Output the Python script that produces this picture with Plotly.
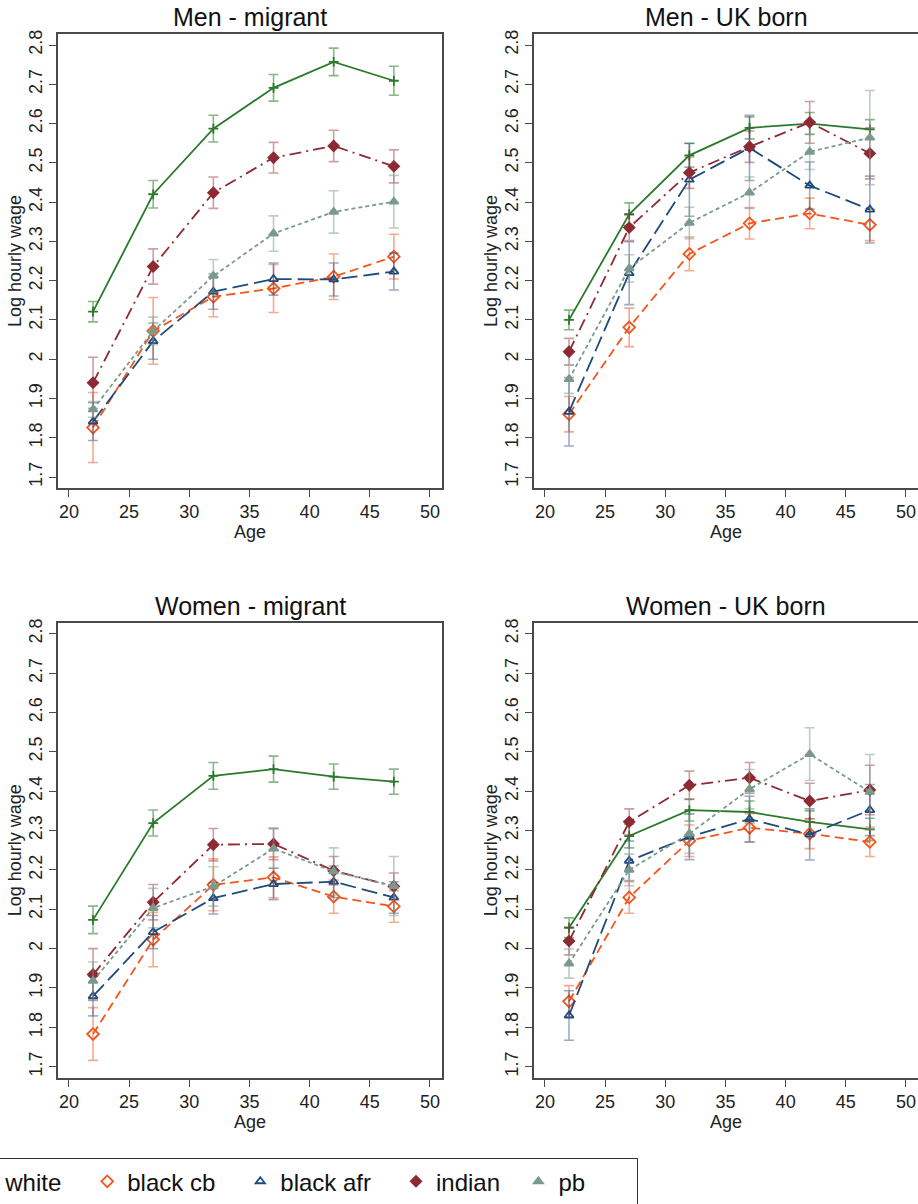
import plotly.graph_objects as go

ages = [22, 27, 32, 37, 42, 47]
groups = ["white", "black cb", "black afr", "indian", "pb"]
panel_titles = ["Men - migrant", "Men - UK born", "Women - migrant", "Women - UK born"]
x_ticks = [20, 25, 30, 35, 40, 45, 50]
y_ticks = [1.7, 1.8, 1.9, 2.0, 2.1, 2.2, 2.3, 2.4, 2.5, 2.6, 2.7, 2.8]
y_tick_labels = ["1.7", "1.8", "1.9", "2", "2.1", "2.2", "2.3", "2.4", "2.5", "2.6", "2.7", "2.8"]

# Men - migrant
mm_white = [2.121, 2.420, 2.587, 2.691, 2.757, 2.709]
mm_white_err = [0.026, 0.035, 0.034, 0.034, 0.035, 0.037]
mm_blackcb = [1.826, 2.072, 2.159, 2.180, 2.210, 2.261]
mm_blackcb_err = [0.089, 0.085, 0.051, 0.061, 0.058, 0.057]
mm_blackafr = [1.841, 2.046, 2.172, 2.204, 2.203, 2.223]
mm_blackafr_err = [0.048, 0.046, 0.045, 0.041, 0.042, 0.047]
mm_indian = [1.940, 2.236, 2.424, 2.513, 2.543, 2.491]
mm_indian_err = [0.065, 0.045, 0.040, 0.039, 0.040, 0.042]
mm_pb = [1.872, 2.072, 2.212, 2.320, 2.375, 2.401]
mm_pb_err = [0.020, 0.035, 0.042, 0.045, 0.054, 0.067]

# Men - UK born
mu_white = [2.100, 2.369, 2.519, 2.589, 2.600, 2.585]
mu_white_err = [0.025, 0.029, 0.030, 0.028, 0.028, 0.025]
mu_blackcb = [1.860, 2.081, 2.268, 2.346, 2.371, 2.342]
mu_blackcb_err = [0.045, 0.049, 0.043, 0.040, 0.039, 0.040]
mu_blackafr = [1.866, 2.219, 2.457, 2.538, 2.442, 2.381]
mu_blackafr_err = [0.087, 0.080, 0.093, 0.083, 0.060, 0.085]
mu_indian = [2.019, 2.335, 2.475, 2.541, 2.603, 2.524]
mu_indian_err = [0.034, 0.033, 0.040, 0.040, 0.053, 0.065]
mu_pb = [1.949, 2.231, 2.347, 2.424, 2.528, 2.564]
mu_pb_err = [0.036, 0.035, 0.040, 0.040, 0.045, 0.120]

# Women - migrant
wm_white = [2.073, 2.319, 2.439, 2.456, 2.437, 2.424]
wm_white_err = [0.035, 0.033, 0.034, 0.033, 0.032, 0.032]
wm_blackcb = [1.783, 2.023, 2.162, 2.181, 2.132, 2.107]
wm_blackcb_err = [0.067, 0.069, 0.066, 0.052, 0.042, 0.040]
wm_blackafr = [1.879, 2.042, 2.128, 2.164, 2.170, 2.130]
wm_blackafr_err = [0.050, 0.042, 0.040, 0.040, 0.040, 0.040]
wm_indian = [1.934, 2.118, 2.264, 2.266, 2.198, 2.158]
wm_indian_err = [0.066, 0.045, 0.041, 0.040, 0.036, 0.034]
wm_pb = [1.918, 2.103, 2.158, 2.254, 2.196, 2.159]
wm_pb_err = [0.048, 0.050, 0.050, 0.050, 0.060, 0.075]

# Women - UK born
wu_white = [2.053, 2.286, 2.352, 2.347, 2.322, 2.303]
wu_white_err = [0.025, 0.030, 0.028, 0.028, 0.028, 0.028]
wu_blackcb = [1.866, 2.130, 2.274, 2.307, 2.292, 2.271]
wu_blackcb_err = [0.040, 0.040, 0.040, 0.036, 0.038, 0.037]
wu_blackafr = [1.830, 2.223, 2.284, 2.329, 2.290, 2.352]
wu_blackafr_err = [0.063, 0.050, 0.058, 0.058, 0.065, 0.065]
wu_indian = [2.019, 2.322, 2.415, 2.434, 2.375, 2.403]
wu_indian_err = [0.035, 0.033, 0.036, 0.039, 0.045, 0.063]
wu_pb = [1.962, 2.200, 2.292, 2.405, 2.494, 2.398]
wu_pb_err = [0.037, 0.040, 0.050, 0.050, 0.067, 0.095]

panels = [
    [(mm_white, mm_white_err), (mm_blackcb, mm_blackcb_err), (mm_blackafr, mm_blackafr_err),
     (mm_indian, mm_indian_err), (mm_pb, mm_pb_err)],
    [(mu_white, mu_white_err), (mu_blackcb, mu_blackcb_err), (mu_blackafr, mu_blackafr_err),
     (mu_indian, mu_indian_err), (mu_pb, mu_pb_err)],
    [(wm_white, wm_white_err), (wm_blackcb, wm_blackcb_err), (wm_blackafr, wm_blackafr_err),
     (wm_indian, wm_indian_err), (wm_pb, wm_pb_err)],
    [(wu_white, wu_white_err), (wu_blackcb, wu_blackcb_err), (wu_blackafr, wu_blackafr_err),
     (wu_indian, wu_indian_err), (wu_pb, wu_pb_err)],
]

colors = ["#2b7a2b", "#f2561d", "#1f4a7a", "#8e2a33", "#7a9a8c"]
err_colors = ["rgba(43,122,43,0.55)", "rgba(242,86,29,0.5)", "rgba(31,74,122,0.45)",
              "rgba(142,42,51,0.45)", "rgba(122,154,140,0.5)"]
dashes = ["solid", "9px,5px", "16px,6px", "12px,5px,2px,5px", "4px,3px"]
symbols = ["cross-thin-open", "diamond-open", "triangle-up-open", "diamond", "triangle-up"]
msizes = [7, 9, 8, 8, 8]
legend_pad = [3, 3, 3, 2, 7]   # trailing non-breaking spaces for legend spacing

W, H = 918, 1204
FONT = "Arial, Liberation Sans, sans-serif"

fig = go.Figure()

# panel geometry in pixels
x_doms = [(58, 442), (534, 918), (58, 442), (534, 918)]
y_doms = [(34, 488), (34, 488), (622.7, 1077.7), (622.7, 1077.7)]
x_range = [19.09, 51.0]
y_range = [1.672, 2.828]

for p in range(4):
    ax = "" if p == 0 else str(p + 1)
    for g in range(5):
        vals, errs = panels[p][g]
        fig.add_trace(go.Scatter(
            x=ages, y=vals, mode="lines+markers",
            xaxis="x" + ax, yaxis="y" + ax,
            line=dict(color=colors[g], width=1.8, dash=dashes[g]),
            marker=dict(symbol=symbols[g], size=msizes[g], color=colors[g],
                        line=dict(color=colors[g], width=1.8)),
            error_y=dict(type="data", array=errs, visible=True, color=err_colors[g],
                         thickness=1.6, width=5),
            showlegend=False, name=groups[g]))
    xd = x_doms[p]
    yd = y_doms[p]
    axis_common = dict(showline=True, mirror=True, linecolor="#4a4a4a", linewidth=1.6,
                       ticks="outside", ticklen=7, tickcolor="#4a4a4a", tickwidth=1.2,
                       showgrid=False, zeroline=False,
                       tickfont=dict(family=FONT, size=18, color="#222"))
    fig.layout["xaxis" + ax] = dict(
        domain=[xd[0] / W, min(xd[1] / W, 1.0)], range=x_range, anchor="y" + ax,
        tickvals=x_ticks, ticktext=[str(t) for t in x_ticks],
        title=dict(text="Age", font=dict(family=FONT, size=18, color="#222"), standoff=0),
        **axis_common)
    fig.layout["yaxis" + ax] = dict(
        domain=[1 - yd[1] / H, 1 - yd[0] / H], range=y_range, anchor="x" + ax,
        tickvals=y_ticks, ticktext=y_tick_labels, tickangle=-90,
        title=dict(text="Log hourly wage", font=dict(family=FONT, size=18, color="#222"), standoff=0),
        **axis_common)
    fig.add_annotation(text=panel_titles[p], xref="paper", yref="paper",
                       x=(xd[0] + xd[1]) / 2 / W, y=1 - (yd[0] - 17) / H,
                       xanchor="center", yanchor="middle", showarrow=False,
                       font=dict(family=FONT, size=25, color="#111"))

# legend entries (marker only)
for g in range(5):
    fig.add_trace(go.Scatter(
        x=[None], y=[None], mode="markers", name=groups[g] + "\u00a0" * legend_pad[g],
        marker=dict(symbol=symbols[g], size=msizes[g], color=colors[g],
                    line=dict(color=colors[g], width=1.8)),
        showlegend=True))

fig.update_layout(
    width=W, height=H,
    margin=dict(l=0, r=0, t=0, b=0, autoexpand=False),
    paper_bgcolor="white", plot_bgcolor="white",
    font=dict(family=FONT, color="#222"),
    legend=dict(orientation="h", x=-36 / W, y=-0.0008, xanchor="left", yanchor="bottom",
                bordercolor="#333", borderwidth=1.2, bgcolor="white",
                font=dict(family=FONT, size=24, color="#111"), itemwidth=30),
)

fig.write_html("out.html")
